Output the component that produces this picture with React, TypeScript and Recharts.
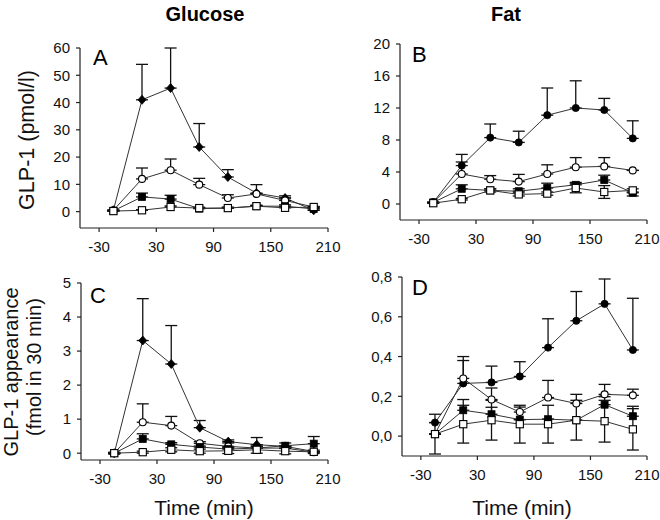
import React from 'react';
import { ComposedChart, Line, XAxis, YAxis, ErrorBar } from 'recharts';

const FONT = "'Liberation Sans', Arial, Helvetica, sans-serif";

const times = [-15, 15, 45, 75, 105, 135, 165, 195];
const xTicks = [-30, 30, 90, 150, 210];

// Panel A — Glucose, GLP-1 (pmol/l)
const aTicks = [0, 10, 20, 30, 40, 50, 60];
const aS1 = [0.5, 41, 45.3, 23.7, 12.7, 6.8, 5, 0.5];
const aS1Up = [0, 13, 14.7, 8.6, 2.7, 3.1, 0.8, 0];
const aS2 = [0.5, 12, 15.2, 9.9, 5, 6.5, 4.1, 1.7];
const aS2Up = [0, 4, 4.1, 2.3, 1.2, 0, 0.9, 0];
const aS3 = [0.3, 5.4, 4.6, 1.1, 1.3, 2.0, 2.0, 1.0];
const aS3Up = [0, 1.4, 1.4, 0.3, 0.3, 0.3, 0.5, 0.2];
const aS4 = [0.2, 0.5, 1.7, 1.3, 1.3, 2.0, 1.4, 1.7];
const aS4Up = [0, 0.2, 0.4, 0.3, 0.3, 0.3, 0.3, 0.2];

// Panel B — Fat, GLP-1 (pmol/l)
const bTicks = [0, 4, 8, 12, 16, 20];
const bS1 = [0.2, 4.8, 8.3, 7.7, 11.1, 12.0, 11.75, 8.2];
const bS1Up = [0, 1.4, 1.7, 1.4, 3.4, 3.4, 1.45, 2.2];
const bS2 = [0.2, 3.75, 3.1, 2.8, 3.75, 4.6, 4.7, 4.2];
const bS2Up = [0, 1.5, 0.45, 0.9, 1.15, 1.2, 1.1, 0];
const bS3 = [0.2, 1.9, 1.7, 1.6, 2.0, 2.4, 3.0, 1.4];
const bS3Up = [0, 0.5, 0.2, 0.3, 0.6, 0.3, 0.6, 0];
const bS3Down = [0, 0, 0, 0, 0, 0, 0, 0.4];
const bS4 = [0.1, 0.6, 1.7, 1.2, 1.3, 2.0, 1.5, 1.7];
const bS4Up = [0, 0.1, 0.2, 0.2, 0.2, 0.6, 0.8, 0.2];
const bS4Down = [0, 0.1, 0.2, 0.2, 0.2, 0.6, 0.8, 0.2];

// Panel C — Glucose, GLP-1 appearance (fmol in 30 min)
const cTicks = [0, 1, 2, 3, 4, 5];
const cS1 = [0.0, 3.31, 2.62, 0.75, 0.34, 0.25, 0.2, 0.05];
const cS1Up = [0, 1.23, 1.13, 0.21, 0.05, 0, 0, 0];
const cS2 = [0.0, 0.91, 0.81, 0.29, 0.2, 0.15, 0.15, 0.03];
const cS2Up = [0, 0.54, 0.27, 0.05, 0.1, 0.31, 0.05, 0];
const cS3 = [0.0, 0.42, 0.26, 0.18, 0.12, 0.15, 0.22, 0.28];
const cS3Up = [0, 0.15, 0.05, 0.03, 0.05, 0.05, 0.08, 0.21];
const cS4 = [0.0, 0.03, 0.1, 0.06, 0.07, 0.1, 0.06, 0.04];
const cS4Up = [0.03, 0.03, 0.06, 0.06, 0.08, 0.1, 0.08, 0.05];
const cS4Down = [0.03, 0.03, 0.06, 0.06, 0.08, 0.1, 0.08, 0.05];

// Panel D — Fat, GLP-1 appearance (fmol in 30 min)
const dTicks = [0, 0.2, 0.4, 0.6, 0.8];
const dS1 = [0.068, 0.265, 0.27, 0.3, 0.445, 0.58, 0.665, 0.433];
const dS1Up = [0, 0.115, 0.082, 0.074, 0.145, 0.147, 0.125, 0.26];
const dS2 = [0.01, 0.29, 0.184, 0.121, 0.194, 0.164, 0.21, 0.205];
const dS2Up = [0, 0.11, 0.058, 0.025, 0.086, 0.046, 0.05, 0.031];
const dS3 = [0.01, 0.13, 0.11, 0.083, 0.085, 0.08, 0.158, 0.1];
const dS3Up = [0, 0.054, 0.035, 0, 0, 0, 0.04, 0.05];
const dS4 = [0.01, 0.06, 0.08, 0.06, 0.06, 0.08, 0.075, 0.034];
const dS4Up = [0.1, 0.095, 0.1, 0.095, 0.095, 0.1, 0.105, 0.104];
const dS4Down = [0.1, 0.095, 0.1, 0.095, 0.095, 0.1, 0.105, 0.104];

const zeros = times.map(() => 0);

function buildRows(
  s: number[][],
  up: number[][],
  down: number[][]
) {
  return times.map((t, i) => ({
    t,
    s1: s[0][i], e1: [down[0][i], up[0][i]],
    s2: s[1][i], e2: [down[1][i], up[1][i]],
    s3: s[2][i], e3: [down[2][i], up[2][i]],
    s4: s[3][i], e4: [down[3][i], up[3][i]],
  }));
}

const rowsA = buildRows([aS1, aS2, aS3, aS4], [aS1Up, aS2Up, aS3Up, aS4Up], [zeros, zeros, zeros, zeros]);
const rowsB = buildRows([bS1, bS2, bS3, bS4], [bS1Up, bS2Up, bS3Up, bS4Up], [zeros, zeros, bS3Down, bS4Down]);
const rowsC = buildRows([cS1, cS2, cS3, cS4], [cS1Up, cS2Up, cS3Up, cS4Up], [zeros, zeros, zeros, cS4Down]);
const rowsD = buildRows([dS1, dS2, dS3, dS4], [dS1Up, dS2Up, dS3Up, dS4Up], [zeros, zeros, zeros, dS4Down]);

type Kind = 'diamond' | 'circleFilled' | 'circleOpen' | 'squareFilled' | 'squareOpen';

function makeDot(kind: Kind) {
  return (props: any) => {
    const { cx, cy, index } = props;
    const key = `${kind}-${index}`;
    if (cx == null || cy == null) return <g key={key} />;
    const stroke = '#000';
    switch (kind) {
      case 'diamond':
        return (
          <polygon
            key={key}
            points={`${cx},${cy - 4.5} ${cx + 4},${cy} ${cx},${cy + 4.5} ${cx - 4},${cy}`}
            fill="#000"
            stroke={stroke}
            strokeWidth={0.8}
          />
        );
      case 'circleFilled':
        return <circle key={key} cx={cx} cy={cy} r={3.6} fill="#000" stroke={stroke} strokeWidth={0.8} />;
      case 'circleOpen':
        return <circle key={key} cx={cx} cy={cy} r={3.5} fill="#fff" stroke={stroke} strokeWidth={1.1} />;
      case 'squareFilled':
        return <rect key={key} x={cx - 3.5} y={cy - 3.5} width={7} height={7} fill="#000" stroke={stroke} strokeWidth={0.8} />;
      default:
        return <rect key={key} x={cx - 3.6} y={cy - 3.6} width={7.2} height={7.2} fill="#fff" stroke={stroke} strokeWidth={1.1} />;
    }
  };
}

interface PanelProps {
  left: number;
  top: number;
  width: number;
  margin: { top: number; right: number; bottom: number; left: number };
  rows: any[];
  yDomain: [number, number];
  yTicks: number[];
  fmt: (v: number) => string;
  firstKind: Kind;
}

const tickStyle = { fill: '#111', fontSize: 15, fontFamily: FONT };

function Panel({ left, top, width, margin, rows, yDomain, yTicks, fmt, firstKind }: PanelProps) {
  const series: { key: string; err: string; kind: Kind }[] = [
    { key: 's1', err: 'e1', kind: firstKind },
    { key: 's2', err: 'e2', kind: 'circleOpen' },
    { key: 's3', err: 'e3', kind: 'squareFilled' },
    { key: 's4', err: 'e4', kind: 'squareOpen' },
  ];
  return (
    <div style={{ position: 'absolute', left, top, width, height: 260 }}>
      <ComposedChart width={width} height={260} data={rows} margin={margin}>
        <XAxis
          dataKey="t"
          type="number"
          domain={[-50, 210]}
          ticks={xTicks}
          interval={0}
          height={30}
          tickSize={4}
          tickMargin={9}
          stroke="#222"
          strokeWidth={1.2}
          tick={tickStyle}
        />
        <YAxis
          type="number"
          domain={yDomain}
          ticks={yTicks}
          interval={0}
          width={60}
          tickSize={4}
          tickMargin={6}
          stroke="#222"
          strokeWidth={1.2}
          tick={tickStyle}
          tickFormatter={fmt}
        />
        {series.map((s) => (
          <Line
            key={s.key}
            dataKey={s.key}
            type="linear"
            stroke="#333"
            strokeWidth={1}
            isAnimationActive={false}
            dot={makeDot(s.kind)}
            activeDot={false}
          >
            <ErrorBar dataKey={s.err} width={6} stroke="#111" strokeWidth={1.3} direction="y" />
          </Line>
        ))}
      </ComposedChart>
    </div>
  );
}

const intFmt = (v: number) => String(v);
const commaFmt = (v: number) => v.toFixed(1).replace('.', ',');

export default function App() {
  return (
    <div
      style={{
        position: 'absolute',
        left: 0,
        top: 0,
        width: 660,
        height: 520,
        background: '#fff',
        fontFamily: FONT,
        overflow: 'hidden',
      }}
    >
      <Panel
        left={0}
        top={0}
        width={350}
        margin={{ top: 48, right: 22, bottom: 2, left: 20 }}
        rows={rowsA}
        yDomain={[-6, 60]}
        yTicks={aTicks}
        fmt={intFmt}
        firstKind="diamond"
      />
      <Panel
        left={330}
        top={0}
        width={330}
        margin={{ top: 44, right: 13, bottom: 10, left: 10 }}
        rows={rowsB}
        yDomain={[-2, 20]}
        yTicks={bTicks}
        fmt={intFmt}
        firstKind="circleFilled"
      />
      <Panel
        left={0}
        top={260}
        width={350}
        margin={{ top: 23, right: 22, bottom: 30, left: 21 }}
        rows={rowsC}
        yDomain={[-0.2, 5]}
        yTicks={cTicks}
        fmt={intFmt}
        firstKind="diamond"
      />
      <Panel
        left={330}
        top={260}
        width={330}
        margin={{ top: 17, right: 13, bottom: 34, left: 12 }}
        rows={rowsD}
        yDomain={[-0.1, 0.8]}
        yTicks={dTicks}
        fmt={commaFmt}
        firstKind="circleFilled"
      />
      <svg
        width={660}
        height={520}
        style={{ position: 'absolute', left: 0, top: 0, pointerEvents: 'none' }}
        fontFamily={FONT}
      >
        <text x={205} y={21} textAnchor="middle" fontSize={20} fontWeight="bold" fill="#000">Glucose</text>
        <text x={506} y={21} textAnchor="middle" fontSize={20} fontWeight="bold" fill="#000">Fat</text>
        <text x={93} y={65} fontSize={22} fill="#000">A</text>
        <text x={412} y={62} fontSize={22} fill="#000">B</text>
        <text x={90} y={303} fontSize={22} fill="#000">C</text>
        <text x={412} y={295} fontSize={22} fill="#000">D</text>
        <text x={34} y={140} textAnchor="middle" fontSize={21.5} fill="#111" transform="rotate(-90 34 140)">GLP-1 (pmol/l)</text>
        <text x={18} y={372} textAnchor="middle" fontSize={20} fill="#111" transform="rotate(-90 18 372)">GLP-1 appearance</text>
        <text x={41} y={367} textAnchor="middle" fontSize={20} fill="#111" transform="rotate(-90 41 367)">(fmol in 30 min)</text>
        <text x={204} y={515} textAnchor="middle" fontSize={21} fill="#111">Time (min)</text>
        <text x={522} y={515} textAnchor="middle" fontSize={21} fill="#111">Time (min)</text>
      </svg>
    </div>
  );
}
